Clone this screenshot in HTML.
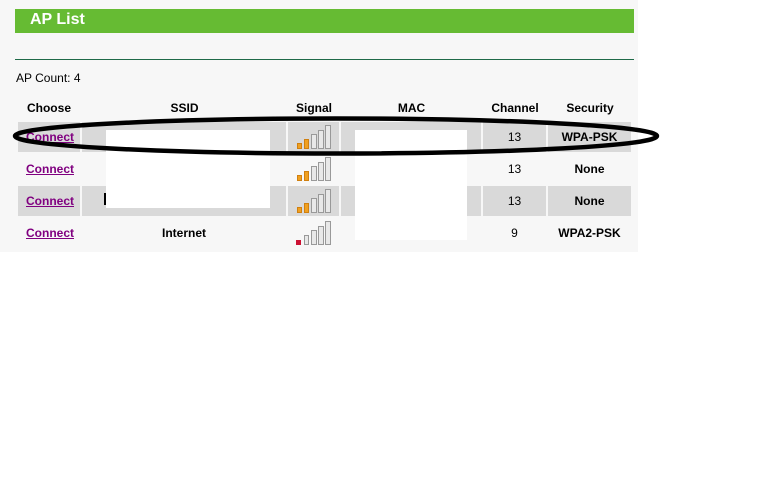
<!DOCTYPE html>
<html><head><style>
body{margin:0;width:768px;height:480px;background:#fff;position:relative;overflow:hidden;font-family:"Liberation Sans",Arial,sans-serif;}
.a{position:absolute}
.panel{left:0;top:0;width:638px;height:252px;background:#f7f7f7}
.t{font-size:12px;font-weight:bold;color:#000;text-align:center;line-height:16px}
.c{font-size:12px;font-weight:bold;color:#800080;text-decoration:underline;line-height:16px}
.g{background:#d9d9d9}
</style></head><body>
<div class="a panel"></div>
<div class="a" style="left:15px;top:9px;width:619px;height:24px;background:#66bb33"></div>
<div class="a" style="left:30px;top:10px;color:#fff;font-weight:bold;font-size:16px;line-height:20px">AP List</div>
<div class="a" style="left:15px;top:59px;width:619px;height:1px;background:#1f6a48"></div>
<div class="a" style="left:16px;top:71px;font-size:12px;line-height:14px">AP Count: 4</div>

<div class="a t" style="left:18px;top:100px;width:62px">Choose</div>
<div class="a t" style="left:82px;top:100px;width:205px">SSID</div>
<div class="a t" style="left:288px;top:100px;width:52px">Signal</div>
<div class="a t" style="left:341px;top:100px;width:141px">MAC</div>
<div class="a t" style="left:483px;top:100px;width:64px">Channel</div>
<div class="a t" style="left:548px;top:100px;width:84px">Security</div>

<div class="a g" style="left:18px;top:122px;width:62px;height:30px"></div>
<div class="a g" style="left:82px;top:122px;width:204px;height:30px"></div>
<div class="a g" style="left:288px;top:122px;width:51px;height:30px"></div>
<div class="a g" style="left:341px;top:122px;width:140px;height:30px"></div>
<div class="a g" style="left:483px;top:122px;width:63px;height:30px"></div>
<div class="a g" style="left:548px;top:122px;width:83px;height:30px"></div>
<div class="a g" style="left:18px;top:186px;width:62px;height:30px"></div>
<div class="a g" style="left:82px;top:186px;width:204px;height:30px"></div>
<div class="a g" style="left:288px;top:186px;width:51px;height:30px"></div>
<div class="a g" style="left:341px;top:186px;width:140px;height:30px"></div>
<div class="a g" style="left:483px;top:186px;width:63px;height:30px"></div>
<div class="a g" style="left:548px;top:186px;width:83px;height:30px"></div>

<div class="a c" style="left:26px;top:129px">Connect</div>
<div class="a c" style="left:26px;top:161px">Connect</div>
<div class="a c" style="left:26px;top:193px">Connect</div>
<div class="a c" style="left:26px;top:225px">Connect</div>
<div class="a" style="left:104px;top:193px;width:3px;height:12px;background:#000"></div>
<div class="a t" style="left:82px;top:225px;width:204px">Internet</div>

<div class="a t" style="left:483px;top:129px;width:63px;font-weight:normal">13</div>
<div class="a t" style="left:483px;top:161px;width:63px;font-weight:normal">13</div>
<div class="a t" style="left:483px;top:193px;width:63px;font-weight:normal">13</div>
<div class="a t" style="left:483px;top:225px;width:63px;font-weight:normal">9</div>
<div class="a t" style="left:548px;top:129px;width:83px">WPA-PSK</div>
<div class="a t" style="left:548px;top:161px;width:83px">None</div>
<div class="a t" style="left:548px;top:193px;width:83px">None</div>
<div class="a t" style="left:548px;top:225px;width:83px">WPA2-PSK</div>

<div class="a" style="left:106px;top:130px;width:164px;height:78px;background:#fff"></div>
<div class="a" style="left:355px;top:130px;width:112px;height:110px;background:#fff"></div>

<svg class="a" style="left:0;top:0" width="768" height="480">
<defs>
<g id="s"><rect x="297.5" y="-5.5" width="4" height="5" fill="#f0a020" stroke="#d08010"/><rect x="304.5" y="-9.5" width="4" height="9" fill="#f0a020" stroke="#d08010"/><rect x="311.5" y="-14.5" width="5" height="14" fill="#e8e8e8" stroke="#999"/><rect x="318.5" y="-18.5" width="5" height="18" fill="#e8e8e8" stroke="#999"/><rect x="325.5" y="-23.5" width="5" height="23" fill="#e8e8e8" stroke="#999"/></g>
<g id="w"><rect x="296" y="-5" width="5" height="5" fill="#cc1133"/><rect x="304.5" y="-9.5" width="4" height="9" fill="#e8e8e8" stroke="#999"/><rect x="311.5" y="-14.5" width="5" height="14" fill="#e8e8e8" stroke="#999"/><rect x="318.5" y="-18.5" width="5" height="18" fill="#e8e8e8" stroke="#999"/><rect x="325.5" y="-23.5" width="5" height="23" fill="#e8e8e8" stroke="#999"/></g>
</defs>
<use href="#s" y="149"/><use href="#s" y="181"/><use href="#s" y="213"/><use href="#w" y="245"/>
<ellipse cx="336" cy="136" rx="321" ry="17.5" fill="none" stroke="#000" stroke-width="4.5"/>
</svg>
</body></html>
